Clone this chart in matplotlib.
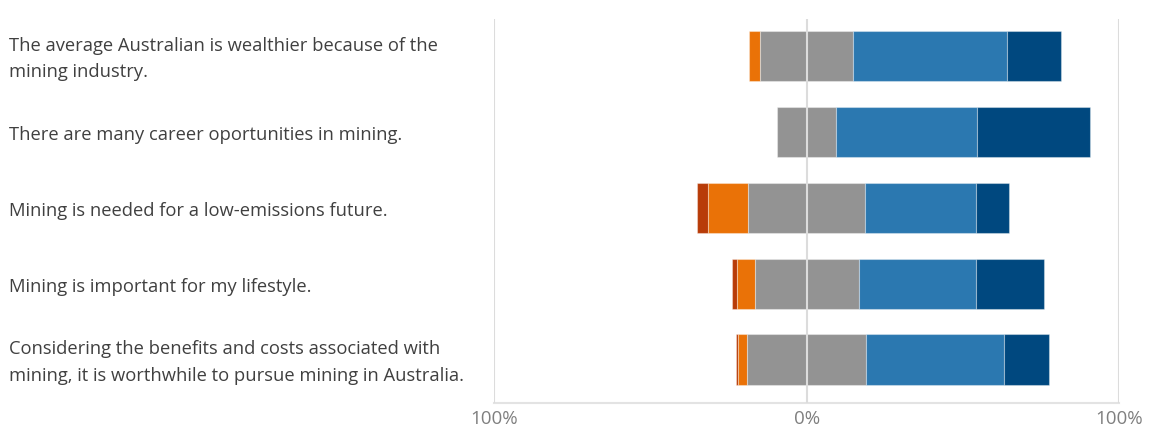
import numpy as np
import matplotlib
matplotlib.use("Agg")
import matplotlib.pyplot as plt
import matplotlib.transforms as mtransforms

# Statements (top to bottom)
statements = [
    "The average Australian is wealthier because of the\nmining industry.",
    "There are many career oportunities in mining.",
    "Mining is needed for a low-emissions future.",
    "Mining is important for my lifestyle.",
    "Considering the benefits and costs associated with\nmining, it is worthwhile to pursue mining in Australia.",
]

# Response shares in percent
strongly_disagree = [0.0, 0.0, 3.5, 1.4, 0.6]
disagree = [3.7, 0.0, 13.0, 5.8, 2.9]
neutral = [29.7, 18.8, 37.4, 33.2, 37.9]
agree = [49.2, 45.0, 35.4, 37.7, 44.1]
strongly_agree = [17.3, 36.1, 10.6, 21.7, 14.4]

tick_values = [-100, 0, 100]
tick_labels = ["100%", "0%", "100%"]

colors = ["#b83c08", "#ea7207", "#939393", "#2b78b0", "#00487f"]

plt.rcParams["font.family"] = ["Open Sans", "DejaVu Sans"]

fig = plt.figure(figsize=(11.51, 4.32), dpi=100)
ax = fig.add_axes([494 / 1151, 1 - 403.3 / 432, 625.3 / 1151, 384.3 / 432])

# stack segments, centred on the middle of the neutral block
segments = np.array([strongly_disagree, disagree, neutral, agree, strongly_agree])
lefts = -(segments[0] + segments[1] + segments[2] / 2)
y = np.arange(len(statements))

for i in range(len(segments)):
    ax.barh(y, segments[i], left=lefts, height=0.66, color=colors[i],
            edgecolor=(1, 1, 1, 0.35), linewidth=0.8, zorder=2)
    lefts = lefts + segments[i]

# vertical reference lines
for v in tick_values:
    ax.axvline(v, color="#dcdcdc", linewidth=1.5, zorder=3)

ax.set_xlim(-100, 100)
ax.set_ylim(4.577, -0.4875)
ax.set_xticks(tick_values)
ax.set_xticklabels(tick_labels, color="#7f7f7f", fontsize=13.5)
ax.tick_params(axis="x", length=0, pad=5)
ax.set_yticks([])

for side in ["top", "left", "right"]:
    ax.spines[side].set_visible(False)
ax.spines["bottom"].set_color("#e3e3e3")
ax.spines["bottom"].set_linewidth(1.5)

# left-aligned statement labels
trans = mtransforms.blended_transform_factory(fig.transFigure, ax.transData)
for yi, text in zip(y, statements):
    ax.text(9 / 1151, yi + 0.04, text, transform=trans, ha="left", va="center",
            fontsize=13.2, color="#404040", linespacing=1.6)

fig.savefig("out.png", dpi=100)
